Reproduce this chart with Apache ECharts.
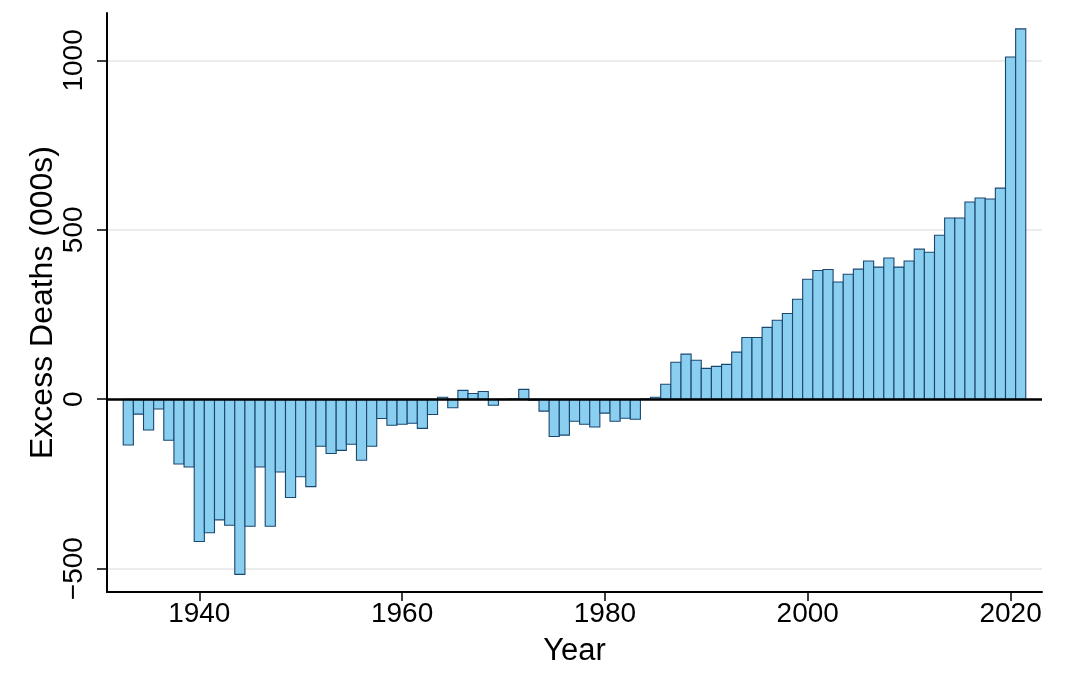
<!DOCTYPE html>
<html>
<head>
<meta charset="utf-8">
<script src="https://cdn.jsdelivr.net/npm/echarts@6/dist/echarts.min.js"></script>
<style>
html,body{margin:0;padding:0;background:#fff;}
#chart{width:1076px;height:694px;}
</style>
</head>
<body>
<div id="chart"></div>
<script>
const years = [];
for (let y = 1933; y <= 2021; y++) years.push(y);
const excessDeaths = [
  -135, -44, -91, -29, -121, -191, -200,          // 1933-1939
  -420, -394, -356, -372, -517, -375, -200, -375, -215, -290, // 1940-1949
  -229, -258, -139, -160, -151, -133, -180, -139, -57, -77,   // 1950-1959
  -74, -71, -86, -45, 6, -25, 26, 17, 23, -18,                // 1960-1969
  -1, 1, 29, -3, -35, -110, -106, -65, -74, -82,              // 1970-1979
  -41, -65, -56, -59, 1, 6, 44, 109, 133, 115,                // 1980-1989
  91, 97, 103, 139, 182, 182, 212, 233, 253, 295,             // 1990-1999
  354, 380, 383, 346, 369, 384, 408, 390, 417, 390,           // 2000-2009
  408, 443, 434, 484, 535, 535, 582, 594, 591, 623,           // 2010-2019
  1010, 1093                                                  // 2020-2021
];
const xTicks = [1940, 1960, 1980, 2000, 2020];
const yTicks = [-500, 0, 500, 1000];

const data = years.map((y, i) => [y, excessDeaths[i]]);
const font = '"Liberation Sans", Arial, Helvetica, sans-serif';

const chart = echarts.init(document.getElementById('chart'), null, {renderer: 'canvas'});
chart.setOption({
  animation: false,
  backgroundColor: '#ffffff',
  grid: {left: 107, right: 34, top: 13, bottom: 102, containLabel: false},
  xAxis: {
    type: 'value',
    min: 1930.9,
    max: 2023.1,
    name: 'Year',
    nameLocation: 'middle',
    nameGap: 44,
    nameMoveOverlap: false,
    nameTextStyle: {fontFamily: font, fontSize: 31, color: '#000', lineHeight: 31},
    axisLine: {show: true, onZero: false, lineStyle: {color: '#000', width: 2}},
    axisTick: {show: true, length: 9, customValues: xTicks, lineStyle: {color: '#000', width: 1.5}},
    axisLabel: {customValues: xTicks, margin: 8, fontFamily: font, fontSize: 28, lineHeight: 28, color: '#000',
      formatter: v => String(v)},
    splitLine: {show: false}
  },
  yAxis: {
    type: 'value',
    min: -569,
    max: 1140,
    name: 'Excess Deaths (000s)',
    nameLocation: 'middle',
    nameGap: 48,
    nameMoveOverlap: false,
    nameTextStyle: {fontFamily: font, fontSize: 32, color: '#000', lineHeight: 32},
    axisLine: {show: true, onZero: false, lineStyle: {color: '#000', width: 2}},
    axisTick: {show: true, length: 10, customValues: yTicks, lineStyle: {color: '#000', width: 1.5}},
    axisLabel: {
      customValues: yTicks, rotate: 90, margin: 19,
      fontFamily: font, fontSize: 28, lineHeight: 28, color: '#000',
      formatter: v => String(v).replace('-', '\u2212')
    },
    splitLine: {show: true, lineStyle: {color: '#e6e6e6', width: 1.5}}
  },
  series: [{
    type: 'custom',
    data: data,
    encode: {x: 0, y: 1},
    renderItem: function (params, api) {
      const x = api.value(0), v = api.value(1);
      const p1 = api.coord([x - 0.5, v]);
      const p2 = api.coord([x + 0.5, 0]);
      return {
        type: 'rect',
        shape: {x: p1[0], y: Math.min(p1[1], p2[1]), width: p2[0] - p1[0], height: Math.abs(p2[1] - p1[1])},
        style: {fill: '#8acff0', stroke: '#1a476f', lineWidth: 1.1}
      };
    },
    markLine: {
      silent: true,
      symbol: 'none',
      label: {show: false},
      z: 10,
      lineStyle: {color: '#000', width: 2.5, type: 'solid'},
      data: [{yAxis: 0}]
    },
    z: 2
  }]
});
</script>
</body>
</html>
